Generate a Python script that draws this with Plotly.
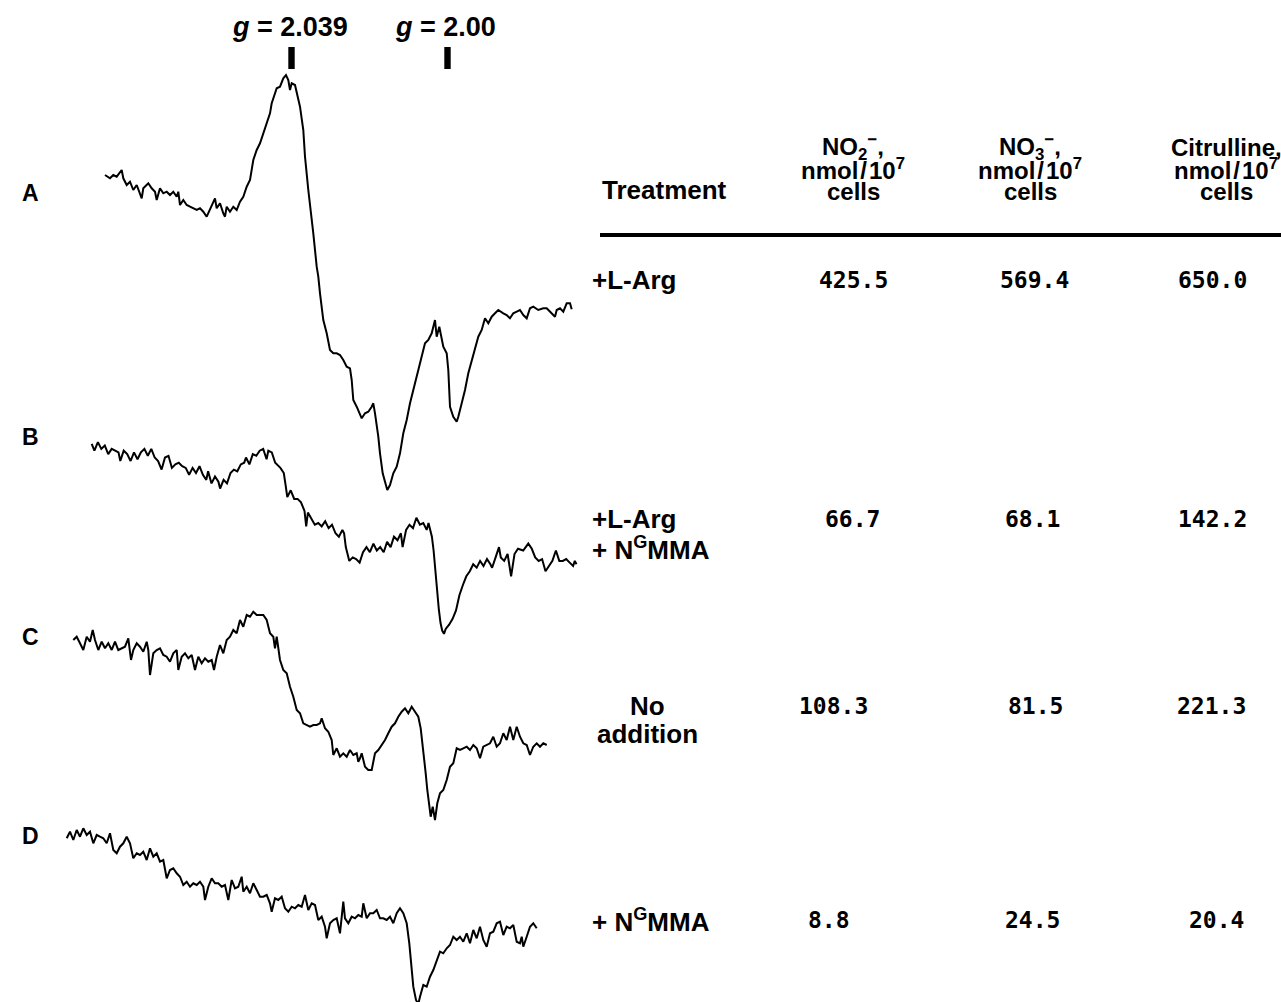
import plotly.graph_objects as go

# EPR first-derivative spectra (field position in arb. units, signal in arb. units)
spectrum_a = [
    (105, 0), (110, -3.3), (113.3, 0), (116.7, -1.7), (121.7, 5), (123.3, -3.3), (126.7, -10),
    (130, -6.7), (133.3, -15), (136.7, -10), (141.7, -23.3), (143.3, -13.3), (148.3, -8.3),
    (151.7, -13.3), (155, -16.7), (156.7, -25), (160, -13.3), (163.3, -18.3), (166.7, -16.7),
    (170, -20), (173.3, -16.7), (176.7, -21.7), (178.3, -16.7), (180, -30), (183.3, -25),
    (186.7, -30), (190, -31.7), (193.3, -33.3), (196.7, -35), (200, -33.3), (203.3, -36.7),
    (206.7, -41.7), (208.3, -38.3), (211.7, -31.7), (215, -23.3), (216.7, -33.3), (220, -28.3),
    (223.3, -38.3), (225, -41.7), (226.7, -31.7), (230, -36.7), (233.3, -31.7), (236.7, -35),
    (240, -26.7), (243.3, -21.7), (246.7, -11.7), (250, -5), (253.3, 15), (256.7, 25),
    (260, 31.7), (263.3, 41.7), (266.7, 50), (270, 61.7), (271.7, 71.7), (275, 81.7),
    (276.7, 86.7), (280, 88.3), (283.3, 96.7), (286, 100), (288.3, 95), (290, 85), (291.7, 91.7),
    (295, 90), (296.7, 81.7), (300, 68.3), (303.3, 45), (305, 18.3), (308.3, -15), (311.7, -41.7),
    (313.3, -58.3), (316.7, -91.7), (318.3, -101.7), (320, -118.3), (323.3, -145), (326.7, -158.3),
    (330, -175), (333.3, -178.3), (336.7, -178.3), (340, -180), (343.3, -185), (346.7, -191.7),
    (350, -193.3), (351.7, -205), (353.3, -225), (356.7, -231.7), (360, -238.3), (361.7, -243.3),
    (365, -238.3), (368.3, -236.7), (371.7, -231.7), (373.3, -228.3), (375, -238.3), (376.7, -248.3),
    (378.3, -261.7), (380, -278.3), (382.7, -298.3), (385, -306.7), (387.3, -315), (390, -310),
    (393.3, -298.3), (396.7, -291.7), (400, -278.3), (403.3, -258.3), (406.7, -245), (410, -228.3),
    (413.3, -215), (416.7, -201.7), (420, -188.3), (423.3, -175), (425, -168.3), (428.3, -165),
    (431.7, -158.3), (435, -145), (436.7, -161.7), (439.3, -151.7), (441.7, -165), (443.3, -171.7),
    (446.7, -178.3), (448.3, -195), (450, -231.7), (453.3, -241.7), (456.7, -246.7), (458.3, -241.7),
    (461.7, -228.3), (465, -215), (468.3, -198.3), (471.7, -185), (475, -171.7), (478.3, -161.7),
    (481.7, -155), (485, -143.3), (488.3, -148.3), (491.7, -141.7), (495, -138.3), (498.3, -135),
    (503.3, -138.3), (506.7, -140), (510, -143.3), (513.3, -138.3), (516.7, -136.7), (520, -135),
    (523.3, -140), (526.7, -143.3), (530, -133.3), (533.3, -131.7), (538.3, -135), (543.3, -133.3),
    (546.7, -133.3), (551.7, -138.3), (555, -141.7), (556.7, -135), (560, -133.3), (563.3, -136.7),
    (566.7, -128.3), (570, -128.3), (571.7, -134.3),
]

spectrum_b = [
    (91.7, -0.8), (94.4, -7.7), (97.9, 0.9), (101.3, -5.9), (104.8, -2.5), (108.2, -11.1),
    (111.7, -5.9), (115.1, -7.7), (118.5, -9.4), (120.3, -18), (123.7, -7.7), (127.2, -11.1),
    (130.6, -18), (134, -9.4), (137.5, -16.3), (140.9, -9.4), (144.4, -5.9), (147.8, -12.8),
    (151.3, -5.9), (154.7, -14.5), (158.1, -18), (161.6, -26.6), (165, -14.5), (168.5, -12.8),
    (171.9, -24.9), (175.4, -21.4), (178.8, -19.7), (182.2, -23.2), (185.7, -24.9), (189.1, -31.8),
    (192.6, -24.9), (196, -30), (199.5, -23.2), (202.9, -31.8), (206.3, -36.9), (208.1, -28.3),
    (211.5, -40.4), (215, -33.5), (218.4, -38.7), (220.1, -45.5), (223.6, -36.9), (227, -40.4),
    (230.5, -30), (233.9, -26.6), (237.3, -28.3), (240.8, -21.4), (244.2, -19.7), (246, -14.5),
    (249.4, -21.4), (252.8, -11.1), (256.3, -12.8), (259.7, -7.7), (263.2, -5.9), (266.6, -16.3),
    (268.3, -7.7), (271.8, -9.4), (275.2, -19.7), (280.4, -24.9), (283.8, -30), (285.6, -42.1),
    (287.3, -54.1), (290.7, -47.3), (294.2, -55.9), (297.6, -55.9), (301, -59.3), (304.5, -67.9),
    (306.2, -83.4), (307.9, -69.6), (311.4, -76.5), (314.8, -81.7), (318.3, -80), (321.7, -83.4),
    (325.2, -78.3), (328.6, -85.1), (332, -81.7), (335.5, -90.3), (338.9, -93.7), (342.4, -86.9),
    (344.1, -90.3), (345.8, -104.1), (349.3, -117.9), (352.7, -114.4), (356.1, -116.1),
    (359.6, -119.6), (363, -109.2), (366.5, -104.1), (369.9, -109.2), (373.4, -100.6),
    (376.8, -107.5), (380.2, -104.1), (383.7, -109.2), (387.1, -98.9), (390.6, -104.1),
    (394, -93.7), (397.5, -97.2), (400.9, -90.3), (402.6, -104.1), (406.1, -86.9), (409.5, -81.7),
    (413, -85.1), (416.4, -74.8), (419.9, -81.7), (423.3, -80), (426.7, -86.9), (428.5, -80),
    (431.9, -93.7), (433.6, -107.5), (435.3, -128.2), (437.1, -148.8), (438.8, -166.1),
    (440.5, -179.8), (442.2, -187.6), (444, -190.8), (445.7, -185.9), (449.1, -181.7),
    (452.6, -175.8), (456, -167.5), (459.4, -152.3), (462.9, -142), (466.3, -133.3),
    (469.8, -128.2), (473.2, -121.3), (476.7, -124.7), (480.1, -117.9), (483.5, -123),
    (487, -116.1), (490.4, -121.3), (492.1, -124.7), (495.6, -114.4), (499, -104.1),
    (500.8, -114.4), (504.2, -117.9), (507.6, -111), (511.1, -133.3), (514.5, -111),
    (518, -105.8), (523.2, -107.5), (528.3, -100.6), (531.8, -105.8), (535.2, -114.4),
    (538.7, -117.9), (542.1, -116.1), (545.5, -128.2), (549, -123), (552.4, -117.9),
    (555.9, -107.5), (559.3, -117.9), (562.8, -117.9), (566.2, -116.1), (569.7, -119.6),
    (573.1, -123), (574.8, -117.9), (576.5, -121.3),
]

spectrum_c = [
    (73.3, 0), (76.7, 3.3), (80, -3.3), (83.3, -10), (86.7, 3.3), (90, -1.7), (92.7, 10), (95, 0),
    (98.3, -10), (101.7, -1.7), (105, -8.3), (108.3, -3.3), (111.7, -10), (115, -1.7), (118.3, -10),
    (121.7, -8.3), (125, -6.7), (128.3, 1.7), (131, -20), (133.3, -10), (136.7, -3.3), (140, -6.7),
    (143.3, -11.7), (146.7, -1.7), (148.3, -10), (150, -35), (153.3, -13.3), (156.7, -10),
    (160, -8.3), (163.3, -15), (166.7, -16.7), (170, -21.7), (173.3, -13.3), (176.7, -10),
    (178.3, -30), (181.7, -16.7), (185, -13.3), (188.3, -18.3), (191.7, -15), (195, -30),
    (198.3, -16.7), (201.7, -23.3), (205, -18.3), (208.3, -21.7), (211.7, -20), (214, -30),
    (216.7, -16.7), (220, -5), (223.3, -13.3), (226.7, 0), (230, 3.3), (233.3, 10), (236.7, 6.7),
    (240, 20), (243.3, 13.3), (246.7, 25), (250, 23.3), (253.3, 28.3), (256.7, 25), (260, 25),
    (263.3, 25), (266.7, 20), (270, 6.7), (273.3, 3.3), (275, -8.3), (276.7, 3.3), (280, -20),
    (283.3, -30), (286.7, -33.3), (290, -46.7), (293.3, -56.7), (296.7, -70), (300, -73.3),
    (303.3, -83.3), (306.7, -85), (310, -86.7), (313.3, -85), (316.7, -85), (320, -83.3),
    (321.7, -78.3), (325, -88.3), (328.3, -91.7), (331.7, -100), (333.3, -115), (336.7, -108.3),
    (340, -116.7), (343.3, -113.3), (346.7, -116.7), (350, -110), (353.3, -115), (356.7, -113.3),
    (358.3, -121.7), (360, -118.3), (361.7, -113.3), (365, -126.7), (368.3, -130), (371.7, -130),
    (375, -113.3), (378.3, -110), (381.7, -105), (385, -100), (388.3, -93.3), (391.7, -86.7),
    (395, -83.3), (398.3, -76.7), (401.7, -71.7), (405, -68.3), (408.3, -73.3), (411.7, -66.7),
    (415, -71.7), (418.3, -76.7), (420.7, -88.3), (423.3, -110), (425.7, -133.3), (427.3, -150),
    (429, -165), (430.7, -176.7), (432.7, -166.7), (435, -180), (437.3, -163.3), (440, -153.3),
    (443.3, -150), (446.7, -140), (450, -126.7), (453.3, -123.3), (456.7, -108.3), (460, -110),
    (463.3, -108.3), (466.7, -106.7), (470, -110), (473.3, -105), (476.7, -108.3), (480, -118.3),
    (483.3, -106.7), (486.7, -105), (490, -103.3), (493.3, -96.7), (496.7, -106.7), (500, -103.3),
    (503.3, -93.3), (506.7, -100), (510, -86.7), (513.3, -100), (516.7, -86.7), (520, -96.7),
    (523.3, -103.3), (526.7, -105), (530, -115), (533.3, -106.7), (536.7, -103.3), (540, -106.7),
    (543.3, -103.3), (546.7, -105),
]

spectrum_d = [
    (66.7, -0.3), (70, 6.3), (73.3, -2), (76.7, 8), (80, 1.3), (83.3, 9.7), (86.7, 3), (90, 6.3),
    (93.3, -5.3), (96.7, 3), (100, 1.3), (103.3, -0.3), (106.7, -5.3), (110, 4.7), (113.3, -12),
    (116.7, -15.3), (120, -8.7), (123.3, -5.3), (126.7, 1.3), (130, -5.3), (133.3, -20.3),
    (136.7, -15.3), (140, -17), (143.3, -13.7), (146.7, -22), (150, -10.3), (153.3, -18.7),
    (156.7, -15.3), (160, -23.7), (163.3, -22), (166.7, -40.3), (170, -32), (173.3, -30.3),
    (176.7, -35.3), (180, -38.7), (183.3, -47), (186.7, -43.7), (190, -48.7), (193.3, -45.3),
    (196.7, -47), (200, -43.7), (203.3, -48.7), (205, -62), (208.3, -48.7), (211.7, -40.3),
    (215, -45.3), (218.3, -45.3), (221.7, -48.7), (225, -47), (228.3, -62), (231.7, -42),
    (235, -50.3), (238.3, -48.7), (241.7, -38.7), (243.3, -53.7), (246.7, -48.7), (250, -55.3),
    (253.3, -45.3), (256.7, -52), (260, -58.7), (263.3, -58.7), (266.7, -57), (270, -65.3),
    (271.7, -73.7), (275, -60.3), (278.3, -62), (281.7, -58.7), (285, -70.3), (288.3, -73.7),
    (291.7, -68.7), (295, -70.3), (298.3, -67), (301.7, -68.7), (305, -57), (308.3, -72),
    (311.7, -65.3), (315, -67), (318.3, -82), (321.7, -78.7), (325, -88.7), (326.7, -100.3),
    (330, -85.3), (333.3, -82), (336.7, -80.3), (340, -95.3), (343.3, -63.7), (345, -80.3),
    (348.3, -85.3), (351.7, -78.7), (355, -80.3), (358.3, -77), (361.7, -78.7), (363.3, -65.3),
    (366.7, -80.3), (370, -75.3), (373.3, -75.3), (376.7, -72), (380, -80.3), (383.3, -80.3),
    (386.7, -82), (390, -78.7), (393.3, -85.3), (396.7, -75.3), (400, -70.3), (403.3, -75.3),
    (406.7, -85.3), (409.3, -105.3), (411.7, -132), (413.3, -148.7), (416, -162), (418.3, -166),
    (420, -158.7), (423.3, -147), (426.7, -148.7), (430, -138.7), (433.3, -132), (436.7, -122),
    (440, -113.7), (443.3, -115.3), (446.7, -110.3), (450, -107), (453.3, -98.7), (456.7, -102),
    (460, -98.7), (463.3, -103.7), (466.7, -95.3), (470, -105.3), (473.3, -92), (476.7, -100.3),
    (480, -88.7), (483.3, -102), (486.7, -108.7), (490, -95.3), (493.3, -93.7), (496.7, -85.3),
    (500, -83.7), (503.3, -97), (506.7, -88.7), (510, -90.3), (513.3, -87), (516.7, -103.7),
    (520, -105.3), (521.7, -98.7), (523.3, -108.7), (526.7, -98.7), (530, -88.7), (533.3, -85.3),
    (536.7, -90.3),
]

spectrum_labels = ["A", "B", "C", "D"]
g_values = ["2.039", "2.00"]
g_field = [291.5, 447.5]

treatments = [
    ["+L-Arg"],
    ["+L-Arg", "+ N<sup>G</sup>MMA"],
    ["No", "addition"],
    ["+ N<sup>G</sup>MMA"],
]
no2 = [425.5, 66.7, 108.3, 8.8]
no3 = [569.4, 68.1, 81.5, 24.5]
citrulline = [650.0, 142.2, 221.3, 20.4]
unit_line = "nmol\u200a/\u200a10<sup>7</sup>"
column_heads = [
    ["NO<sub>2</sub><sup>−</sup>,", unit_line, "cells"],
    ["NO<sub>3</sub><sup>−</sup>,", unit_line, "cells"],
    ["Citrulline,", unit_line, "cells"],
]

# ---- page geometry (pixels) ----
W, H = 1281, 1002
Y_TOP = 175                          # signal units shown above trace A's baseline
stack_offset = [0, -268, -465, -663]  # vertical stacking of the four spectra
label_y = [193, 437, 637, 836]

SANS = "Liberation Sans, Arial, sans-serif"
MONO = "DejaVu Sans Mono, monospace"


def px(x):
    return x / W


def py(y):
    return 1 - y / H


def note(x, y, text, size, family=SANS, xanchor="center"):
    return dict(x=px(x), y=py(y), xref="paper", yref="paper", text=text,
                showarrow=False, xanchor=xanchor, yanchor="middle",
                font=dict(family=family, size=size, color="black"))


fig = go.Figure()
for spec, off in zip([spectrum_a, spectrum_b, spectrum_c, spectrum_d], stack_offset):
    xs = [p[0] for p in spec]
    ys = [p[1] + off for p in spec]
    fig.add_trace(go.Scatter(x=xs, y=ys, mode="lines",
                             line=dict(color="black", width=2), hoverinfo="skip",
                             showlegend=False))

annotations = []
shapes = []

# spectrum letters
for lab, ly in zip(spectrum_labels, label_y):
    annotations.append(note(30, ly, f"<b>{lab}</b>", 23))

# g-value markers
for gv, gx in zip(g_values, g_field):
    shapes.append(dict(type="rect", xref="x", yref="y", x0=gx - 3.2, x1=gx + 3.2,
                       y0=Y_TOP - 69, y1=Y_TOP - 47, fillcolor="black", line=dict(width=0)))
    annotations.append(dict(x=gx - 2, y=Y_TOP - 27, xref="x", yref="y",
                            xanchor="center", yanchor="middle",
                            text=f"<b><i>g</i> = {gv}</b>", showarrow=False,
                            font=dict(family=SANS, size=27, color="black")))

# table header
annotations.append(note(600, 190, "<b>Treatment</b>", 26, xanchor="left"))
head_x = [853, 1030, 1226]
head_y = [147, 169, 191]
for cx, lines in zip(head_x, column_heads):
    for ly, t in zip(head_y, lines):
        annotations.append(note(cx, ly, f"<b>{t}</b>", 24))
shapes.append(dict(type="line", xref="paper", yref="paper", x0=px(600), x1=px(1281),
                   y0=py(235), y1=py(235), line=dict(color="black", width=4)))

# table body
row_y = [280, 519, 706, 920]
cell_x = [[853, 1034, 1212], [852, 1032, 1212], [834, 1035, 1211], [829, 1032, 1216]]
for i, ry in enumerate(row_y):
    for k, t in enumerate(treatments[i]):
        if i == 2:
            annotations.append(note(647, ry + 28 * k, f"<b>{t}</b>", 26))
        else:
            annotations.append(note(590, ry + 29 * k, f"<b>{t}</b>", 26, xanchor="left"))
    for cx, v in zip(cell_x[i], [no2[i], no3[i], citrulline[i]]):
        annotations.append(note(cx, ry, f"<b>{v:.1f}</b>", 23, family=MONO))

fig.update_layout(
    width=W, height=H, margin=dict(l=0, r=0, t=0, b=0),
    paper_bgcolor="white", plot_bgcolor="white",
    xaxis=dict(range=[0, W], visible=False, fixedrange=True),
    yaxis=dict(range=[Y_TOP - H, Y_TOP], visible=False, fixedrange=True),
    annotations=annotations, shapes=shapes,
)
fig.write_html("out.html", config={"displayModeBar": False})
